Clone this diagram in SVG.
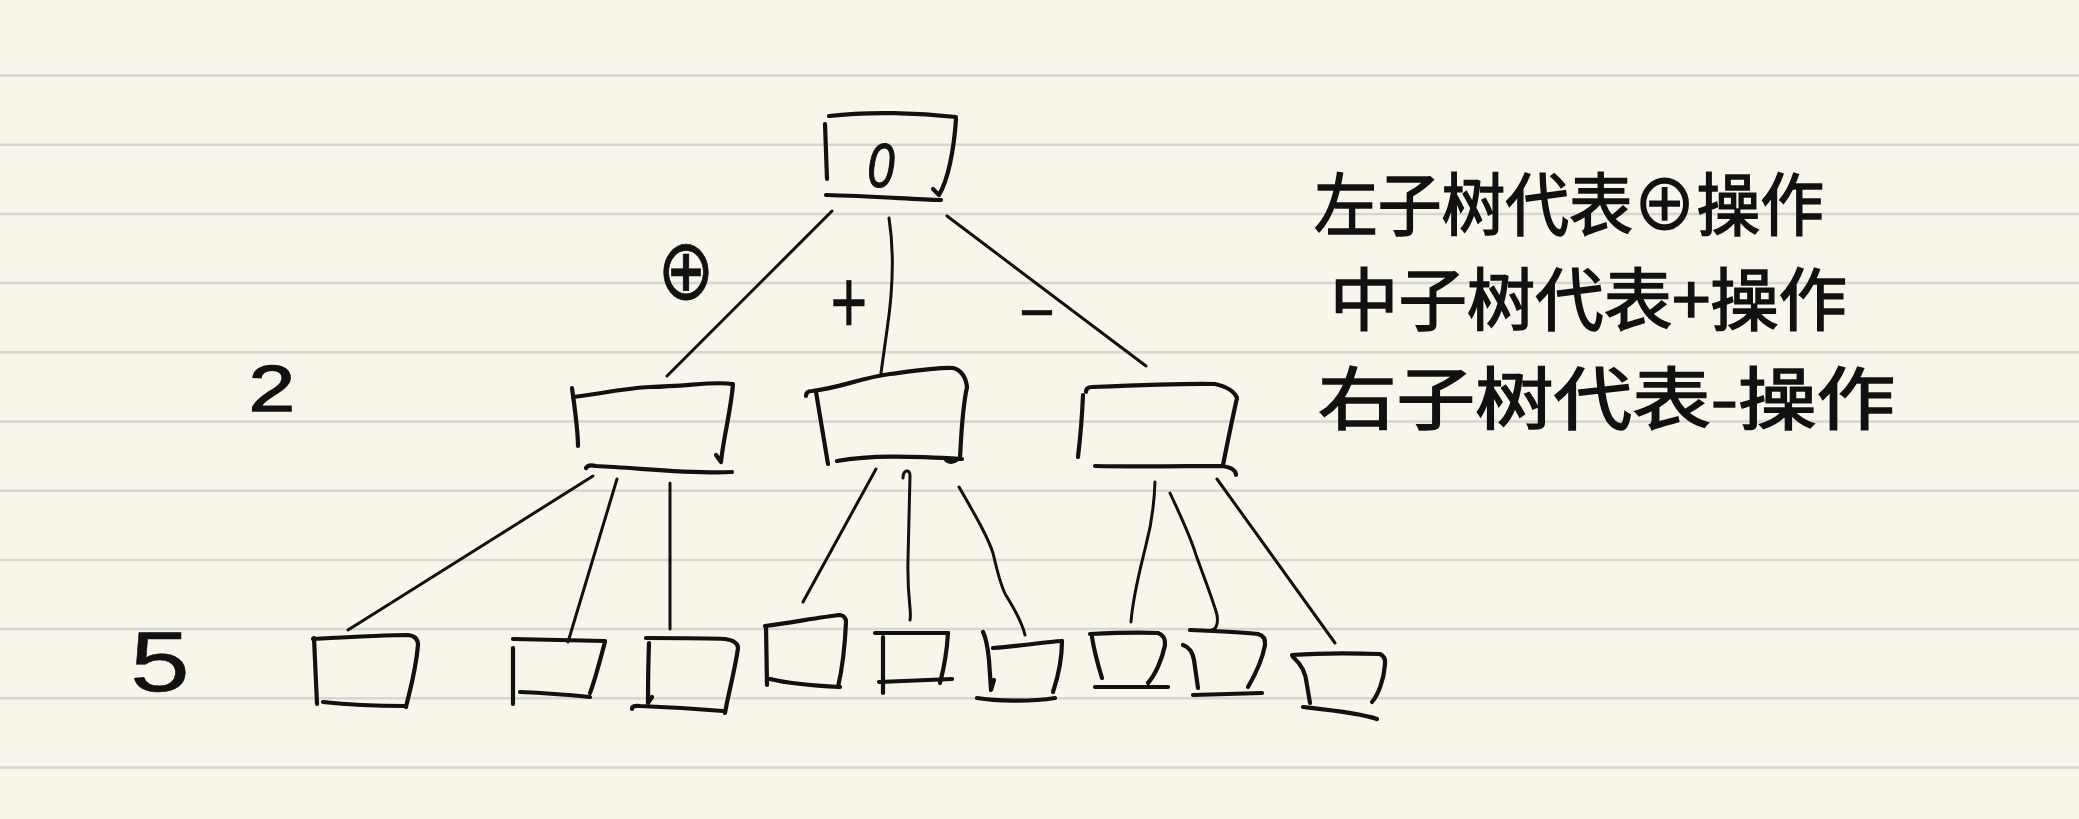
<svg xmlns="http://www.w3.org/2000/svg" width="2079" height="819" viewBox="0 0 2079 819">
<style>
.rule{stroke:#d6d6d2;stroke-width:2.5}
.box path{fill:none;stroke:#111;stroke-width:4.2;stroke-linecap:round;stroke-linejoin:round}
.edges path{fill:none;stroke:#111;stroke-width:3;stroke-linecap:round;stroke-linejoin:round}
.lbl{font-family:"Liberation Sans",Arial,sans-serif;fill:#111;stroke:#111;stroke-width:1;text-anchor:middle}
.cjk{font-family:"Noto Sans CJK SC","Noto Sans CJK TC",sans-serif;fill:#111;stroke:#111;stroke-width:1.6;font-size:68px}
</style>
<rect width="2079" height="819" fill="#f8f6ea"/>
<g id="paper-lines">
<line class="rule" x1="0" y1="75.5" x2="2079" y2="75.5"/>
<line class="rule" x1="0" y1="144.7" x2="2079" y2="144.7"/>
<line class="rule" x1="0" y1="213.9" x2="2079" y2="213.9"/>
<line class="rule" x1="0" y1="283.1" x2="2079" y2="283.1"/>
<line class="rule" x1="0" y1="352.3" x2="2079" y2="352.3"/>
<line class="rule" x1="0" y1="421.5" x2="2079" y2="421.5"/>
<line class="rule" x1="0" y1="490.7" x2="2079" y2="490.7"/>
<line class="rule" x1="0" y1="559.9" x2="2079" y2="559.9"/>
<line class="rule" x1="0" y1="629.1" x2="2079" y2="629.1"/>
<line class="rule" x1="0" y1="698.3" x2="2079" y2="698.3"/>
<line class="rule" x1="0" y1="767.5" x2="2079" y2="767.5"/>
</g>
<g id="connectors" class="edges">
<path d="M832,211 L667,376"/>
<path d="M889,218 C894,250 893,290 887,330 L881,373"/>
<path d="M947,216 L1146,366"/>
<path d="M593,476 L348,630"/>
<path d="M617,479 L568,642"/>
<path d="M670,483 L670,629"/>
<path d="M876,469 L803,602"/>
<path d="M903,478 C903,470 910,468 910,476 L908,560 C907,600 912,610 910,620"/>
<path d="M959,487 C975,515 987,535 993,553 C998,575 1002,590 1007,597 C1015,610 1022,622 1025,635"/>
<path d="M1155,482 C1154,510 1150,530 1146,545 C1140,570 1133,595 1131,622"/>
<path d="M1170,493 C1180,515 1190,535 1196,555 C1205,580 1213,600 1217,615 Q1219,628 1212,630"/>
<path d="M1217,479 L1335,643"/>
</g>
<g id="edge-labels">
<text class="lbl" transform="translate(686,270) scale(1,1.25)" x="0" y="23" style="font-family:'DejaVu Sans',sans-serif;font-size:68px;stroke-width:0.6">⊕</text>
<text class="lbl" transform="translate(849,300) scale(0.9,1.3)" x="0" y="25" style="font-size:70px;stroke-width:0.5">+</text>
<text class="lbl" transform="translate(1037,312) scale(2,1)" x="0" y="16" style="font-size:60px;stroke-width:0.5">-</text>
</g>
<g id="root" class="box">
<path d="M829,116 C870,111 920,113 956,117"/>
<path d="M825,124 L827,179"/>
<path d="M956,119 C954,150 948,180 939,195 M933,189 L939,195"/>
<path d="M826,195 C870,196 910,199 941,200"/>
<text class="lbl" transform="translate(881,165) scale(0.85,1.1)" x="0" y="20" style="font-size:58px;font-style:italic">0</text>
</g>
<g id="node-left" class="box">
<path d="M573,397 C600,394 625,388 650,387 C690,386 715,381 732,384"/>
<path d="M572,388 C575,410 578,430 578,446"/>
<path d="M733,384 C731,410 723,440 721,462 M716,455 L721,462"/>
<path d="M586,468 Q588,464 596,466 C640,468 690,474 732,472"/>
</g>
<g id="node-middle" class="box">
<path d="M806,396 Q806,391 812,391 C840,388 860,378 890,374 C920,370 940,367 953,368 Q965,371 967,387"/>
<path d="M816,392 L828,464"/>
<path d="M967,387 C962,410 961,440 960,458"/>
<path d="M837,461 C870,455 910,456 962,459 M946,460 Q952,464 958,459"/>
</g>
<g id="node-right" class="box">
<path d="M1086,392 Q1086,387 1092,387 C1140,385 1190,383 1215,384 Q1233,388 1237,398"/>
<path d="M1083,395 C1082,420 1080,440 1078,457"/>
<path d="M1237,398 C1232,420 1228,440 1223,465"/>
<path d="M1095,466 C1140,467 1190,466 1222,466 Q1236,468 1236,475"/>
</g>
<g id="leaf1" class="box">
<path d="M313,639 C350,637 390,635 408,635 Q418,636 418,645"/>
<path d="M314,638 L317,704"/>
<path d="M418,645 C416,670 410,690 406,707"/>
<path d="M323,702 C350,705 380,706 406,706"/>
</g>
<g id="leaf2" class="box">
<path d="M513,639 L605,641"/>
<path d="M513,648 L513,704"/>
<path d="M605,642 C600,660 595,680 590,693"/>
<path d="M520,692 C545,693 570,695 590,697"/>
</g>
<g id="leaf3" class="box">
<path d="M646,638 C680,638 710,638 725,639 Q738,641 738,648"/>
<path d="M649,643 C648,670 648,690 648,703 L652,697"/>
<path d="M738,648 C735,670 728,695 725,713"/>
<path d="M632,709 Q632,705 640,706 C670,707 700,709 723,711"/>
</g>
<g id="leaf4" class="box">
<path d="M765,626 C790,623 820,617 840,615 Q846,616 846,622"/>
<path d="M766,626 L767,685"/>
<path d="M846,622 C845,645 842,670 838,687"/>
<path d="M770,679 C790,684 820,686 840,687"/>
</g>
<g id="leaf5" class="box">
<path d="M875,633 L948,633"/>
<path d="M883,637 L883,693"/>
<path d="M948,633 C947,650 944,668 940,683"/>
<path d="M879,682 L952,679"/>
</g>
<g id="leaf6" class="box">
<path d="M993,648 C1020,646 1045,642 1062,641"/>
<path d="M983,632 C987,640 988,650 989,660 L991,690 L994,680"/>
<path d="M1062,641 C1062,660 1057,680 1053,692"/>
<path d="M977,698 C995,701 1030,702 1055,698"/>
</g>
<g id="leaf7" class="box">
<path d="M1090,634 C1110,633 1140,632 1158,633 Q1166,636 1165,645"/>
<path d="M1092,637 C1094,650 1098,665 1102,678"/>
<path d="M1165,645 C1162,660 1155,675 1148,683"/>
<path d="M1095,687 L1168,687"/>
</g>
<g id="leaf8" class="box">
<path d="M1190,630 C1215,631 1240,632 1258,634 Q1266,636 1265,645"/>
<path d="M1183,645 Q1192,648 1194,660 L1198,688"/>
<path d="M1265,645 C1262,662 1255,675 1248,687"/>
<path d="M1193,695 L1262,693"/>
</g>
<g id="leaf9" class="box">
<path d="M1292,655 C1320,653 1350,653 1380,654 Q1386,657 1385,664"/>
<path d="M1293,657 C1300,663 1306,673 1307,685 L1310,703"/>
<path d="M1385,664 C1384,680 1378,695 1372,702"/>
<path d="M1303,707 C1330,710 1360,713 1377,719"/>
</g>
<g id="level-labels">
<text class="lbl" transform="translate(272,388) scale(1.3,1)" x="0" y="23" style="font-size:64px;stroke-width:1.5">2</text>
<text class="lbl" transform="translate(160,660) scale(1.25,1)" x="0" y="31" style="font-size:86px;stroke-width:0.5">5</text>
</g>
<g id="legend">
<text class="cjk" x="1314" y="230" textLength="510" lengthAdjust="spacingAndGlyphs">左子树代表⊕操作</text>
<text class="cjk" x="1330" y="325" textLength="517" lengthAdjust="spacingAndGlyphs">中子树代表+操作</text>
<text class="cjk" x="1318" y="424" textLength="577" lengthAdjust="spacingAndGlyphs">右子树代表-操作</text>
</g>
</svg>
